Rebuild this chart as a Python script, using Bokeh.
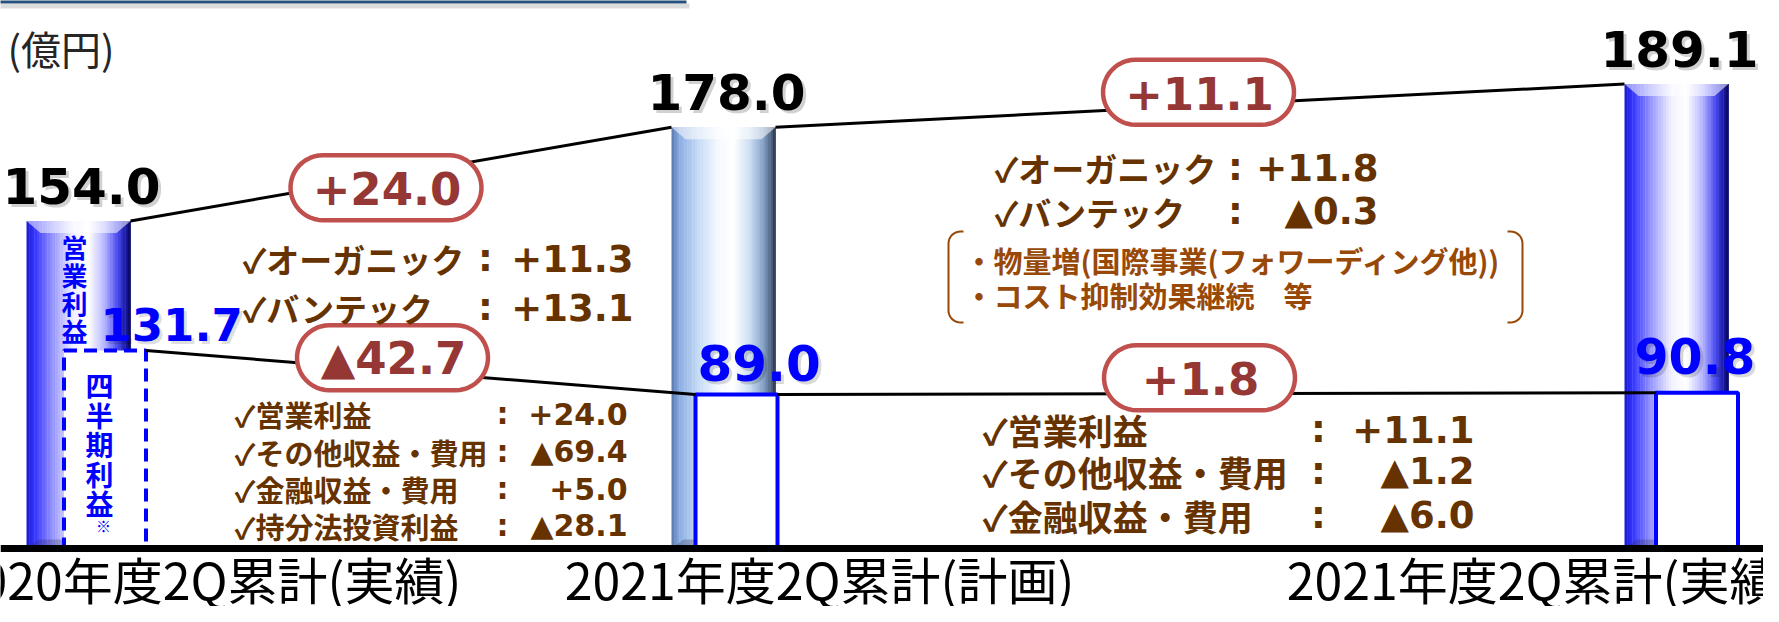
import numpy as np
from bokeh.plotting import figure
from bokeh.models import Range1d, Span
from bokeh.core.properties import value
from bokeh.embed import file_html
from bokeh.resources import INLINE

# ---------------- data ----------------
periods = ["2020年度2Q累計(実績)", "2021年度2Q累計(計画)", "2021年度2Q累計(実績)"]
operating_profit = [154.0, 178.0, 189.1]      # 営業利益
quarterly_profit = [131.7, 89.0, 90.8]        # 四半期利益
unit_label = "(億円)"
op_name = "営業利益"
qp_name = "四半期利益"
qp_note = "※"

lu_items = ["✓オーガニック", "✓バンテック"]
lu_values = ["+11.3", "+13.1"]
ll_items = ["✓営業利益", "✓その他収益・費用", "✓金融収益・費用", "✓持分法投資利益"]
ll_values = ["+24.0", "▲69.4", "+5.0", "▲28.1"]
ru_items = ["✓オーガニック", "✓バンテック"]
ru_values = ["+11.8", "▲0.3"]
ru_notes = ["・物量増(国際事業(フォワーディング他))", "・コスト抑制効果継続　等"]
rl_items = ["✓営業利益", "✓その他収益・費用", "✓金融収益・費用"]
rl_values = ["+11.1", "▲1.2", "▲6.0"]

# ---------------- layout / style ----------------
W, H = 1763, 606
OX, OY = 8, 8            # page margin offset
BASE_Y = 556             # baseline pixel row
OP_V0, OP_K = 70.0, 3.9  # operating-profit scale (value at baseline, px per unit)
QP_V0, QP_K = -60.0, 1.033
BAR_CX = [86, 731, 1684]
BAR_W = 104
QP_CX = [112.5, 744, 1704.5]
QP_W = 82
CAT_X = [214, 827, 1549]
JP = "Noto Sans CJK JP"
NUM = "DejaVu Sans"
BROWN = "#663300"
NOTE_BROWN = "#984807"
BOX_LINE = "#C0504D"
BOX_TEXT = "#953735"
BLUE = "#0000FF"

BLUE_STOPS = [(0.0, "#1a1ad0"), (0.08, "#3535ff"), (0.25, "#9595ff"), (0.45, "#f2f2ff"),
              (0.6, "#ffffff"), (0.75, "#b5b5ff"), (0.88, "#4545f0"), (0.96, "#16169a"), (1.0, "#08085a")]
STEEL_STOPS = [(0.0, "#5877ad"), (0.08, "#8daee3"), (0.25, "#c4daf5"), (0.45, "#f5faff"),
               (0.6, "#ffffff"), (0.75, "#cddff3"), (0.88, "#88a3c9"), (0.96, "#4d6180"), (1.0, "#283244")]
BAR_STOPS = [BLUE_STOPS, STEEL_STOPS, BLUE_STOPS]


def op_px(v):
    return BASE_Y - (v - OP_V0) * OP_K


def qp_px(v):
    return BASE_Y - (v - QP_V0) * QP_K


def hex2rgb(h):
    h = h.lstrip("#")
    return [int(h[i:i + 2], 16) for i in (0, 2, 4)]


def grad(stops, t):
    for (t0, c0), (t1, c1) in zip(stops[:-1], stops[1:]):
        if t <= t1:
            f = (t - t0) / (t1 - t0)
            a, b = hex2rgb(c0), hex2rgb(c1)
            return "#%02x%02x%02x" % tuple(int(round(a[k] + (b[k] - a[k]) * f)) for k in range(3))
    return stops[-1][1]


def fmt_delta(d):
    return ("+" if d >= 0 else "▲") + f"{abs(d):.1f}"


p = figure(width=W, height=H,
           x_range=Range1d(OX, OX + W),
           y_range=Range1d(OP_V0 - (OY + H - BASE_Y) / OP_K, OP_V0 + (BASE_Y - OY) / OP_K),
           output_backend="svg", toolbar_location=None, min_border=0,
           x_axis_location=None, y_axis_location=None, outline_line_color=None,
           background_fill_color="white", border_fill_color="white")
p.grid.visible = False
p.extra_y_ranges = {
    "px": Range1d(OY + H, OY),
    "qp": Range1d(QP_V0 - (OY + H - BASE_Y) / QP_K, QP_V0 + (BASE_Y - OY) / QP_K),
}


def txt(xs, ys, ss, size, color, font=JP, bold=True, align="left", alpha=1.0):
    p.text(x=xs, y=ys, text=ss, y_range_name="px",
           text_font=value(font), text_font_size=value(f"{size}px"),
           text_font_style="bold" if bold else "normal", text_color=color,
           text_align=align, text_baseline="middle", text_alpha=alpha)


# header strip
p.quad(left=[0], right=[694], top=[0], bottom=[11], y_range_name="px",
       fill_color="#24507C", line_color=None)
p.quad(left=[0], right=[697], top=[11], bottom=[16], y_range_name="px",
       fill_color="#9a9a9a", fill_alpha=0.35, line_color=None)

# gradient cylinders (operating profit)
N = 40
for i, v in enumerate(operating_profit):
    left0 = BAR_CX[i] - BAR_W / 2
    edges = left0 + np.arange(N + 1) * BAR_W / N
    cols = [grad(BAR_STOPS[i], (k + 0.5) / N) for k in range(N)]
    p.quad(left=edges[:-1], right=edges[1:] + 0.4, top=[v] * N, bottom=[OP_V0] * N,
           fill_color=cols, line_color=None)
    t = op_px(v)
    r0 = left0 + BAR_W
    p.patch(x=[left0, r0, r0 - 14, left0 + 14], y=[t, t, t + 12, t + 12], y_range_name="px",
            fill_color="white", fill_alpha=0.55, line_color=None)
    p.patch(x=[left0, left0 + 12, r0 - 12, r0], y=[BASE_Y, BASE_Y - 9, BASE_Y - 9, BASE_Y],
            y_range_name="px", fill_color="#202040", fill_alpha=0.25, line_color=None)

# quarterly profit boxes
p.quad(left=[QP_CX[0] - QP_W / 2], right=[QP_CX[0] + QP_W / 2], top=[quarterly_profit[0]],
       bottom=[QP_V0], y_range_name="qp", fill_color="white", line_color=BLUE,
       line_width=4, line_dash="13 7")
p.quad(left=[c - QP_W / 2 for c in QP_CX[1:]], right=[c + QP_W / 2 for c in QP_CX[1:]],
       top=quarterly_profit[1:], bottom=[QP_V0] * 2, y_range_name="qp",
       fill_color="white", line_color=BLUE, line_width=4)

# connectors
op_x0 = [BAR_CX[i] + BAR_W / 2 for i in range(2)]
op_x1 = [BAR_CX[i + 1] - BAR_W / 2 for i in range(2)]
p.segment(x0=op_x0, y0=operating_profit[:2], x1=op_x1, y1=operating_profit[1:],
          line_color="black", line_width=3)
qp_x0 = [QP_CX[i] + QP_W / 2 for i in range(2)]
qp_x1 = [QP_CX[i + 1] - QP_W / 2 for i in range(2)]
p.segment(x0=qp_x0, y0=quarterly_profit[:2], x1=qp_x1, y1=quarterly_profit[1:],
          y_range_name="qp", line_color="black", line_width=3)


def stadium(cx, cy, w, h, n=24):
    r = h / 2
    a = np.linspace(-np.pi / 2, np.pi / 2, n)
    rx = cx + w / 2 - r + r * np.cos(a)
    ry = cy + r * np.sin(a)
    lx = cx - w / 2 + r - r * np.cos(a)
    ly = cy - r * np.sin(a)
    return list(np.concatenate([rx, lx])), list(np.concatenate([ry, ly]))


def line_px_at(x, x0, y0, x1, y1):
    return y0 + (x - x0) / (x1 - x0) * (y1 - y0)


BOX_W, BOX_H = 191, 65
op_box_cx, op_box_dy = [393.5, 1206], [11, -13.5]
qp_box_cx, qp_box_dy = [400, 1207], [-12.5, -16]
for i in range(2):
    d = operating_profit[i + 1] - operating_profit[i]
    cy = line_px_at(op_box_cx[i], op_x0[i], op_px(operating_profit[i]),
                    op_x1[i], op_px(operating_profit[i + 1])) + op_box_dy[i]
    xs, ys = stadium(op_box_cx[i], cy, BOX_W, BOX_H)
    p.patch(x=xs, y=ys, y_range_name="px", fill_color="white", line_color=BOX_LINE, line_width=4.5)
    txt([op_box_cx[i] + 1], [cy + 1], [fmt_delta(d)], 45, BOX_TEXT, font=NUM, align="center")
    d = quarterly_profit[i + 1] - quarterly_profit[i]
    cy = line_px_at(qp_box_cx[i], qp_x0[i], qp_px(quarterly_profit[i]),
                    qp_x1[i], qp_px(quarterly_profit[i + 1])) + qp_box_dy[i]
    xs, ys = stadium(qp_box_cx[i], cy, BOX_W, BOX_H)
    p.patch(x=xs, y=ys, y_range_name="px", fill_color="white", line_color=BOX_LINE, line_width=4.5)
    txt([qp_box_cx[i] + 1], [cy + 1], [fmt_delta(d)], 45, BOX_TEXT, font=NUM, align="center")

# value labels
op_lbl_x = [c + 3 for c in BAR_CX]
op_lbl_y = [op_px(v) - 35 for v in operating_profit]
op_txt = [f"{v:.1f}" for v in operating_profit]
txt([x + 3 for x in op_lbl_x], [y + 3 for y in op_lbl_y], op_txt, 50, "#000000", font=NUM,
    align="center", alpha=0.18)
txt(op_lbl_x, op_lbl_y, op_txt, 50, "#000000", font=NUM, align="center")

qp_lbl_x = [108, 705, 1642]
qp_lbl_dy = [25.5, 32, 37]
qp_lbl_size = [45, 50, 49]
for i, v in enumerate(quarterly_profit):
    y = qp_px(v) - qp_lbl_dy[i]
    txt([qp_lbl_x[i] + 3], [y + 3], [f"{v:.1f}"], qp_lbl_size[i], "#000000", font=NUM, alpha=0.15)
    txt([qp_lbl_x[i]], [y], [f"{v:.1f}"], qp_lbl_size[i], BLUE, font=NUM)

# vertical captions
t1 = op_px(operating_profit[0])
txt([82] * len(op_name), [t1 + 26 + k * 28 for k in range(len(op_name))], list(op_name),
    26, BLUE, align="center")
t2 = qp_px(quarterly_profit[0])
qy = [t2 + 35 + k * 29.5 for k in range(len(qp_name))]
txt([107] * len(qp_name), qy, list(qp_name), 28, BLUE, align="center")
txt([111], [qy[-1] + 22], [qp_note], 15, BLUE, align="center")

# unit
txt([15], [55], [unit_label], 40, "#262626", bold=False)


def rows(items, vals, lx, cx, rx, ys, lsize, vsize, color):
    txt([lx] * len(items), ys, items, lsize, color)
    txt([cx] * len(items), ys, [":"] * len(items), vsize, color, font=NUM, align="center")
    txt([rx] * len(vals), ys, vals, vsize, color, font=NUM, align="right")


rows(lu_items, lu_values, 250, 493, 641, [266, 315], 33, 37, BROWN)
rows(ll_items, ll_values, 242, 510, 635, [421, 459, 496, 533], 29, 30, BROWN)
rows(ru_items, ru_values, 1002, 1243, 1386, [175, 219], 33, 37, BROWN)
rows(rl_items, rl_values, 990, 1326, 1482, [437, 479, 523], 35, 37, BROWN)
txt([972, 972], [267, 302], ru_notes, 29, NOTE_BROWN)


def bracket(xv, xh, y0, y1, r=12, n=10):
    s = 1 if xh > xv else -1
    xs, ys = [xh], [y0]
    for ang in np.linspace(np.pi / 2, 0, n):
        xs.append(xv + s * r - s * r * np.cos(ang))
        ys.append(y0 + r - r * np.sin(ang))
    for ang in np.linspace(0, np.pi / 2, n):
        xs.append(xv + s * r - s * r * np.cos(ang))
        ys.append(y1 - r + r * np.sin(ang))
    xs.append(xh)
    ys.append(y1)
    return xs, ys


for xv, xh in [(956, 971), (1530, 1515)]:
    bx, by = bracket(xv, xh, 239, 330)
    p.line(x=bx, y=by, y_range_name="px", line_color=NOTE_BROWN, line_width=2)

# category labels
txt(CAT_X, [585] * 3, periods, 50, "#000000", bold=False, align="center")

# baseline
p.add_layout(Span(location=OP_V0, dimension="width", line_color="black", line_width=7))

open("out.html", "w", encoding="utf-8").write(file_html(p, INLINE, title="営業利益・四半期利益"))
